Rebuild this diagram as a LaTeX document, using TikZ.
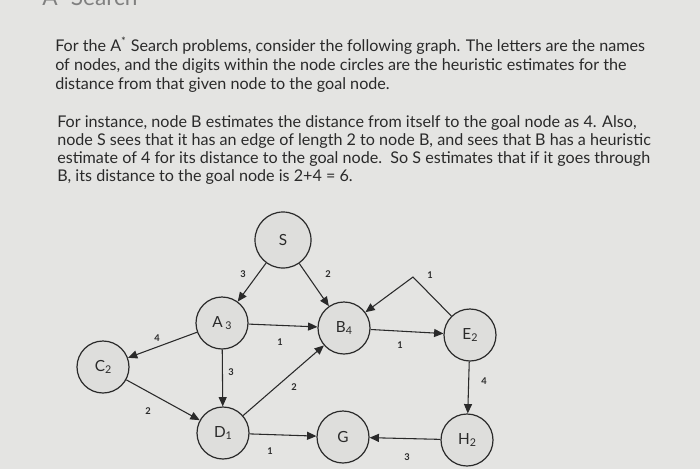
\documentclass[tikz,border=0pt]{standalone}
\usepackage{fontspec}
\setmainfont{Lato}
\usetikzlibrary{arrows.meta}
\definecolor{bg}{HTML}{E4E4E2}
\definecolor{ink}{HTML}{2A2A2A}
\definecolor{circ}{HTML}{DEDEDC}
\newcommand{\sbx}[1]{\raisebox{-0.35ex}{\fontsize{8}{9}\selectfont #1}}
\begin{document}
\begin{tikzpicture}[x=0.75pt,y=-0.75pt,
  txt/.style={anchor=base west,inner sep=0,font=\fontsize{12.1}{14}\selectfont,text=ink},
  gnode/.style={circle,draw=ink,line width=0.9pt,fill=circ,minimum size=52*0.75pt,inner sep=0,font=\fontsize{11.5}{13}\selectfont,text=ink},
  edge/.style={-{Triangle[length=7pt,width=6pt]},line width=0.8pt,draw=ink},
  lab/.style={font=\fontsize{7}{8}\selectfont\bfseries,text=ink,inner sep=1pt}]
\fill[bg] (0,0) rectangle (700,469);
\useasboundingbox (0,0) rectangle (700,469);
\node[txt,font=\fontsize{17}{19}\selectfont,text=gray] (title) at (42,5) {A\textsuperscript{*} Search};
\node[txt] (l1) at (55,51) {For the A\textsuperscript{*} Search problems, consider the following graph. The letters are the names};
\node[txt] (l2) at (55,70) {of nodes, and the digits within the node circles are the heuristic estimates for the};
\node[txt] (l3) at (55,89) {distance from that given node to the goal node.};
\node[txt] (m1) at (57,127) {For instance, node B estimates the distance from itself to the goal node as 4. Also,};
\node[txt] (m2) at (57,145) {node S sees that it has an edge of length 2 to node B, and sees that B has a heuristic};
\node[txt] (m3) at (57,163) {estimate of 4 for its distance to the goal node.\ \ So S estimates that if it goes through};
\node[txt] (m4) at (57,181) {B, its distance to the goal node is 2+4 = 6.};
\node[gnode,minimum size=56*0.75pt] (S) at (283,240) {S};
\node[gnode] (A) at (222,323) {A\,\sbx{3}};
\node[gnode] (B) at (344,328) {B\sbx{4}};
\node[gnode] (E) at (470,335) {E\sbx{2}};
\node[gnode] (C) at (103,367) {C\sbx{2}};
\node[gnode] (D) at (223,433) {D\sbx{1}};
\node[gnode] (G) at (343,437) {G};
\node[gnode] (H) at (467,440) {H\sbx{2}};
\coordinate (k) at (413,277);
\draw[edge] (S) -- (A);
\draw[edge] (S) -- (B);
\draw[edge] (A) -- (B);
\draw[edge] (A) -- (C);
\draw[edge] (A) -- (D);
\draw[edge] (C) -- (D);
\draw[edge] (D) -- (B);
\draw[edge] (D) -- (G);
\draw[edge] (B) -- (E);
\draw[edge] (E) -- (H);
\draw[edge] (H) -- (G);
\draw[edge] (E) -- (k) -- (B);
\node[lab] (t1) at (243,274) {3};
\node[lab] (t2) at (328,274) {2};
\node[lab] (t3) at (430,275) {1};
\node[lab] (t4) at (157,338) {4};
\node[lab] (t5) at (280,342) {1};
\node[lab] (t6) at (400,345) {1};
\node[lab] (t7) at (231,372) {3};
\node[lab] (t8) at (294,387) {2};
\node[lab] (t9) at (484,381) {4};
\node[lab] (t10) at (148,411) {2};
\node[lab] (t11) at (270,451) {1};
\node[lab] (t12) at (407,457) {3};
\end{tikzpicture}
\end{document}
